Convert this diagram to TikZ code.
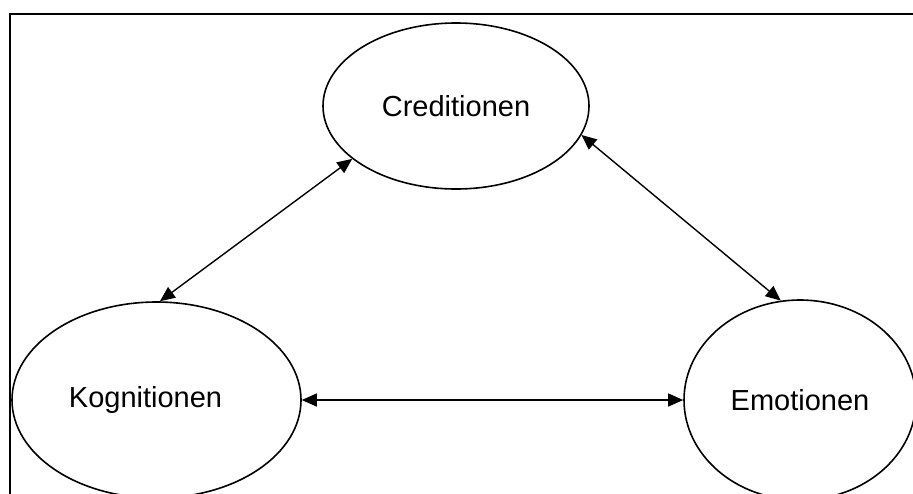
\documentclass[tikz,border=0pt]{standalone}
\usepackage{fontspec}
\setmainfont{Liberation Sans}
\usetikzlibrary{shapes.geometric,arrows.meta}

\begin{document}
\begin{tikzpicture}[x=0.5pt,y=-0.5pt,
    bubble/.style={draw,ellipse,line width=0.8pt,inner sep=0pt,font=\fontsize{14.5}{17}\selectfont},
    link/.style={{Triangle[length=7.5pt,width=6.5pt]}-{Triangle[length=7.5pt,width=6.5pt]},line width=0.7pt}]
    \clip(0,0)rectangle(913,493);
    \draw[line width=1pt](10,14)rectangle(940,520);
    \node[bubble,minimum width=133pt,minimum height=83pt](cred)at(456,106){Creditionen};
    \node[bubble,minimum width=144.5pt,minimum height=98pt](kog)at(156.5,400){Kognitionen\hspace*{11pt}};
    \node[bubble,minimum width=116pt,minimum height=100pt](emo)at(800,400){Emotionen};
    \draw[link](cred.207)--(kog.88);
    \draw[link](cred.-13)--(emo.101);
    \draw[link](kog.east)--(emo.west);
\end{tikzpicture}
\end{document}
